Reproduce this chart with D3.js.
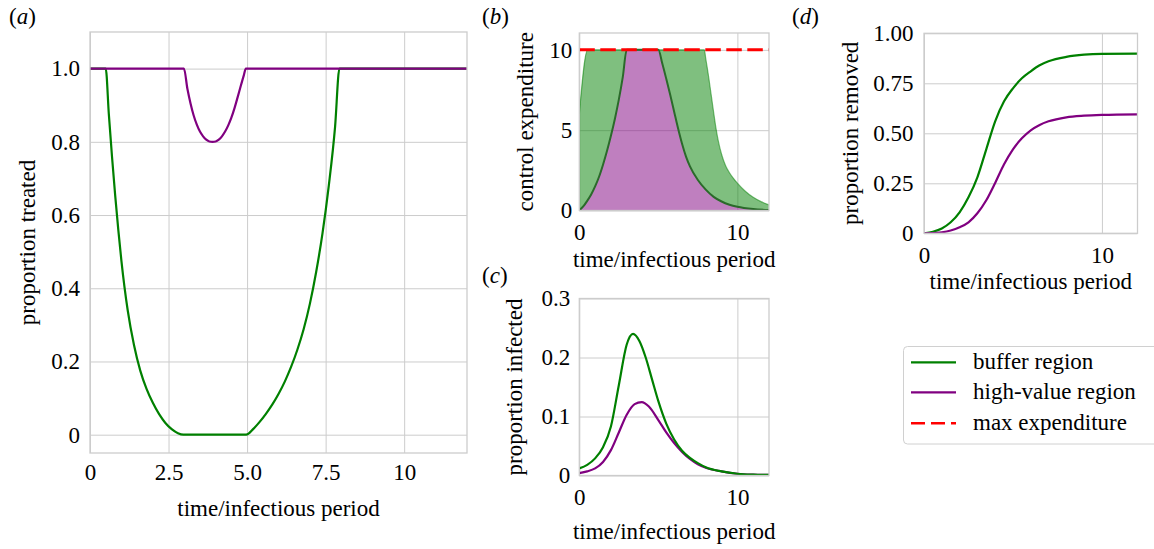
<!DOCTYPE html>
<html><head><meta charset="utf-8">
<script src="https://cdn.jsdelivr.net/npm/d3@7"></script>
<style>
body{margin:0;background:#fff}
svg{display:block}
</style>
</head><body>
<svg id="chart" width="1154" height="549"></svg>
<script>
// ---------- DATA ----------
// (a) proportion treated
const treatTimeBuffer = [0, 0.5, 0.6, 0.7, 0.8, 0.9, 1.0, 1.2, 1.4, 1.6, 1.8, 2.0, 2.2, 2.4, 2.6, 2.8, 2.97, 4.97, 5.2, 5.4, 5.6, 5.8, 6.0, 6.2, 6.4, 6.6, 6.8, 7.0, 7.2, 7.4, 7.6, 7.8, 7.94, 12];
const treatBuffer     = [1, 1, 0.875, 0.76, 0.655, 0.56, 0.475, 0.34, 0.245, 0.175, 0.125, 0.087, 0.056, 0.032, 0.015, 0.004, 0, 0, 0.016, 0.035, 0.057, 0.082, 0.111, 0.145, 0.185, 0.232, 0.288, 0.358, 0.445, 0.55, 0.68, 0.84, 1, 1];
const treatTimeHigh = [0, 2.99, 3.1, 3.2, 3.3, 3.4, 3.5, 3.6, 3.7, 3.8, 3.9, 4.0, 4.1, 4.2, 4.3, 4.4, 4.5, 4.6, 4.7, 4.8, 4.9, 4.96, 12];
const treatHigh     = [1, 1, 0.945, 0.905, 0.872, 0.847, 0.828, 0.815, 0.806, 0.801, 0.80, 0.801, 0.806, 0.815, 0.828, 0.845, 0.866, 0.892, 0.922, 0.953, 0.983, 1, 1];

// (b) control expenditure
const spendTimeTotal = [0, 0.53, 7.91, 8.0, 8.1, 8.2, 8.3, 8.4, 8.5, 8.65, 8.8, 9.0, 9.25, 9.5, 9.75, 10, 10.5, 11, 11.5, 12];
const spendTotal     = [6.0, 10, 10, 9.45, 8.85, 8.2, 7.5, 6.8, 6.1, 5.1, 4.3, 3.5, 2.8, 2.35, 2.0, 1.7, 1.2, 0.82, 0.55, 0.35];
const spendTimeHigh = [0, 0.25, 0.5, 0.75, 1.0, 1.25, 1.5, 1.75, 2.0, 2.25, 2.5, 2.75, 3.0, 5.0, 5.25, 5.5, 5.75, 6.0, 6.25, 6.5, 6.75, 7.0, 7.5, 8.0, 8.5, 9.0, 9.5, 10, 11, 12];
const spendHigh     = [0, 0.25, 0.6, 1.0, 1.5, 2.1, 2.85, 3.7, 4.65, 5.7, 6.9, 8.3, 10, 10, 9.15, 8.2, 7.2, 6.15, 5.1, 4.15, 3.35, 2.75, 1.9, 1.3, 0.85, 0.56, 0.36, 0.23, 0.09, 0.03];
const maxExpenditure = 10;

// (c) proportion infected
const infTimeBuffer = [0, 0.5, 1.0, 1.5, 2.0, 2.5, 3.0, 3.4, 3.8, 4.2, 4.6, 5.0, 5.5, 6.0, 6.5, 7.0, 7.5, 8.0, 9.0, 10, 11, 12];
const infBuffer     = [0.012, 0.018, 0.029, 0.048, 0.083, 0.153, 0.222, 0.240, 0.228, 0.2, 0.163, 0.126, 0.088, 0.061, 0.042, 0.03, 0.021, 0.014, 0.007, 0.003, 0.0015, 0.001];
const infTimeHigh = [0, 0.5, 1.0, 1.5, 2.0, 2.5, 3.0, 3.5, 3.95, 4.4, 5.0, 5.5, 6.0, 6.5, 7.0, 7.5, 8.0, 9.0, 10, 11, 12];
const infHigh     = [0.004, 0.007, 0.012, 0.023, 0.043, 0.073, 0.103, 0.121, 0.1245, 0.117, 0.094, 0.073, 0.055, 0.04, 0.028, 0.019, 0.013, 0.007, 0.003, 0.0015, 0.001];

// (d) proportion removed
const remTimeBuffer = [0, 0.5, 1.0, 1.5, 2.0, 2.5, 3.0, 3.5, 4.0, 4.5, 5.0, 5.5, 6.0, 6.5, 7.0, 8.0, 9.0, 10, 12];
const remBuffer     = [0, 0.008, 0.024, 0.055, 0.105, 0.18, 0.28, 0.42, 0.56, 0.66, 0.725, 0.775, 0.81, 0.84, 0.86, 0.882, 0.893, 0.897, 0.898];
const remTimeHigh = [0, 0.5, 1.0, 1.5, 2.0, 2.5, 3.0, 3.5, 4.0, 4.5, 5.0, 5.5, 6.0, 6.5, 7.0, 8.0, 9.0, 10, 12];
const remHigh     = [0, 0.001, 0.005, 0.014, 0.03, 0.055, 0.1, 0.165, 0.252, 0.345, 0.42, 0.475, 0.515, 0.542, 0.56, 0.58, 0.588, 0.592, 0.595];

// ticks
const xTicksA = [0, 2.5, 5, 7.5, 10], xTickLabelsA = ["0", "2.5", "5.0", "7.5", "10"];
const yTicksA = [0, 0.2, 0.4, 0.6, 0.8, 1.0], yTickLabelsA = ["0", "0.2", "0.4", "0.6", "0.8", "1.0"];
const xTicksSmall = [0, 10], xTickLabelsSmall = ["0", "10"];
const yTicksB = [0, 5, 10], yTickLabelsB = ["0", "5", "10"];
const yTicksC = [0, 0.1, 0.2, 0.3], yTickLabelsC = ["0", "0.1", "0.2", "0.3"];
const yTicksD = [0, 0.25, 0.5, 0.75, 1.0], yTickLabelsD = ["0", "0.25", "0.50", "0.75", "1.00"];

const seriesNames = ["buffer region", "high-value region", "max expenditure"];
const xTitle = "time/infectious period";

// ---------- STYLE ----------
const FS = 23;
const FONT = "'Liberation Serif', 'Nimbus Roman', 'DejaVu Serif', serif";
const GREEN = "#008000", PURPLE = "#800080", RED = "#ff0000", GRID = "#cccccc", FRAME = "#cccccc";
const LW = 2.2;

const svg = d3.select("#chart");

function styleText(sel) {
  return sel.attr("font-family", FONT).attr("font-size", FS).style("font-family", FONT).style("font-size", FS + "px").attr("fill", "#000");
}

function makePanel(p) {
  const g = svg.append("g");
  const x = d3.scaleLinear().domain([0, 12]).range([p.left, p.right]);
  const y = d3.scaleLinear().domain(p.yDomain).range([p.bottom, p.top]);
  const h = p.bottom - p.top, w = p.right - p.left;
  svg.append("clipPath").attr("id", "clip" + p.id)
    .append("rect").attr("x", p.left).attr("y", p.top).attr("width", w).attr("height", h);

  // grid
  g.append("g").attr("transform", `translate(0,${p.bottom})`)
    .call(d3.axisBottom(x).tickValues(p.xTicks).tickSize(-h).tickFormat(""))
    .call(s => s.select(".domain").remove())
    .selectAll("line").attr("stroke", GRID).attr("stroke-width", 1);
  g.append("g").attr("transform", `translate(${p.left},0)`)
    .call(d3.axisLeft(y).tickValues(p.yTicks).tickSize(-w).tickFormat(""))
    .call(s => s.select(".domain").remove())
    .selectAll("line").attr("stroke", GRID).attr("stroke-width", 1);

  // tick labels
  const xa = g.append("g").attr("transform", `translate(0,${p.bottom})`)
    .call(d3.axisBottom(x).tickValues(p.xTicks).tickSize(0).tickPadding(p.xPad).tickFormat((d, i) => p.xLabels[i]));
  const ya = g.append("g").attr("transform", `translate(${p.left},0)`)
    .call(d3.axisLeft(y).tickValues(p.yTicks).tickSize(0).tickPadding(p.yPad).tickFormat((d, i) => p.yLabels[i]));
  [xa, ya].forEach(a => {
    a.select(".domain").remove();
    a.attr("font-family", FONT).attr("font-size", FS);
    styleText(a.selectAll("text"));
  });

  // axis titles
  styleText(g.append("text")).attr("x", (p.left + p.right) / 2).attr("y", p.xTitleY)
    .attr("text-anchor", "middle").text(xTitle);
  styleText(g.append("text")).attr("transform", `translate(${p.yTitleX},${(p.top + p.bottom) / 2}) rotate(-90)`)
    .attr("text-anchor", "middle").text(p.yTitle);

  // panel tag
  const t = styleText(g.append("text")).attr("x", p.tagX).attr("y", p.tagY);
  t.append("tspan").text("(");
  t.append("tspan").style("font-style", "italic").text(p.tag);
  t.append("tspan").text(")");

  const data = g.append("g").attr("clip-path", `url(#clip${p.id})`);
  const frame = () => g.append("rect").attr("x", p.left).attr("y", p.top).attr("width", w).attr("height", h)
    .attr("fill", "none").attr("stroke", FRAME).attr("stroke-width", 1.3);
  return { g, x, y, data, frame };
}

function line(P) {
  return d3.line().x(d => P.x(d[0])).y(d => P.y(d[1])).curve(d3.curveMonotoneX);
}
function drawLine(P, ts, vs, color) {
  P.data.append("path").attr("d", line(P)(d3.zip(ts, vs)))
    .attr("fill", "none").attr("stroke", color).attr("stroke-width", LW)
    .attr("stroke-linejoin", "round").attr("stroke-linecap", "butt");
}

// ---------- PANEL A ----------
const A = makePanel({ id: "a", left: 90, right: 467, top: 32, bottom: 453, yDomain: [-0.05, 1.1],
  xTicks: xTicksA, xLabels: xTickLabelsA, yTicks: yTicksA, yLabels: yTickLabelsA,
  xPad: 11, yPad: 10, xTitleY: 515.5, yTitleX: 35, yTitle: "proportion treated", tag: "a", tagX: 9, tagY: 24 });
drawLine(A, treatTimeBuffer, treatBuffer, GREEN);
drawLine(A, treatTimeHigh, treatHigh, PURPLE);
A.frame();

// ---------- PANEL B ----------
const B = makePanel({ id: "b", left: 579.3, right: 769, top: 33, bottom: 210.5, yDomain: [0, 11.05],
  xTicks: xTicksSmall, xLabels: xTickLabelsSmall, yTicks: yTicksB, yLabels: yTickLabelsB,
  xPad: 13.5, yPad: 7, xTitleY: 266.5, yTitleX: 533, yTitle: "control expenditure", tag: "b", tagX: 482, tagY: 24 });
{
  const totalPts = d3.zip(spendTimeTotal, spendTotal);
  const highPts = d3.zip(spendTimeHigh, spendHigh);
  const L = line(B);
  const highArea = L(highPts) + `L${B.x(12)},${B.y(0)}L${B.x(0)},${B.y(0)}Z`;
  B.data.append("path").attr("d", highArea).attr("fill", PURPLE).attr("fill-opacity", 0.5);
  const revHigh = L(highPts.slice().reverse());
  const bufArea = L(totalPts) + "L" + revHigh.slice(1) + "Z";
  B.data.append("path").attr("d", bufArea).attr("fill", GREEN).attr("fill-opacity", 0.5);
  B.data.append("path").attr("d", L(totalPts)).attr("fill", "none")
    .attr("stroke", GREEN).attr("stroke-opacity", 0.5).attr("stroke-width", 1.2);
  B.data.append("path").attr("d", L(highPts)).attr("fill", "none")
    .attr("stroke", "#2b6a2b").attr("stroke-width", 2);
  B.data.append("line").attr("x1", B.x(0)).attr("x2", B.x(12))
    .attr("y1", B.y(maxExpenditure)).attr("y2", B.y(maxExpenditure))
    .attr("stroke", RED).attr("stroke-width", 3).attr("stroke-dasharray", "15.5,5.5");
}
B.frame();

// ---------- PANEL C ----------
const C = makePanel({ id: "c", left: 579.3, right: 769, top: 298.5, bottom: 475.5, yDomain: [0, 0.3],
  xTicks: xTicksSmall, xLabels: xTickLabelsSmall, yTicks: yTicksC, yLabels: yTickLabelsC,
  xPad: 13.5, yPad: 9, xTitleY: 538.5, yTitleX: 522, yTitle: "proportion infected", tag: "c", tagX: 482, tagY: 283 });
drawLine(C, infTimeHigh, infHigh, PURPLE);
drawLine(C, infTimeBuffer, infBuffer, GREEN);
C.frame();

// ---------- PANEL D ----------
const D = makePanel({ id: "d", left: 924, right: 1137.5, top: 33.3, bottom: 233.3, yDomain: [0, 1],
  xTicks: xTicksSmall, xLabels: xTickLabelsSmall, yTicks: yTicksD, yLabels: yTickLabelsD,
  xPad: 13.5, yPad: 10.5, xTitleY: 289, yTitleX: 858, yTitle: "proportion removed", tag: "d", tagX: 792, tagY: 24 });
drawLine(D, remTimeBuffer, remBuffer, GREEN);
drawLine(D, remTimeHigh, remHigh, PURPLE);
D.frame();

// ---------- LEGEND ----------
{
  const lg = svg.append("g");
  lg.append("rect").attr("x", 903.5).attr("y", 346.5).attr("width", 262).attr("height", 97.5)
    .attr("rx", 4).attr("fill", "#fff").attr("stroke", "#d0d0d0").attr("stroke-width", 1);
  const colors = [GREEN, PURPLE, RED];
  const rowY = [362.3, 392.3, 423.3];
  seriesNames.forEach((name, i) => {
    lg.append("line").attr("x1", 911).attr("x2", 956).attr("y1", rowY[i]).attr("y2", rowY[i])
      .attr("stroke", colors[i]).attr("stroke-width", i === 2 ? 2.5 : LW)
      .attr("stroke-dasharray", i === 2 ? "14,6" : null);
    styleText(lg.append("text")).attr("x", 973).attr("y", rowY[i] + 7).text(name);
  });
}
</script>
</body></html>
